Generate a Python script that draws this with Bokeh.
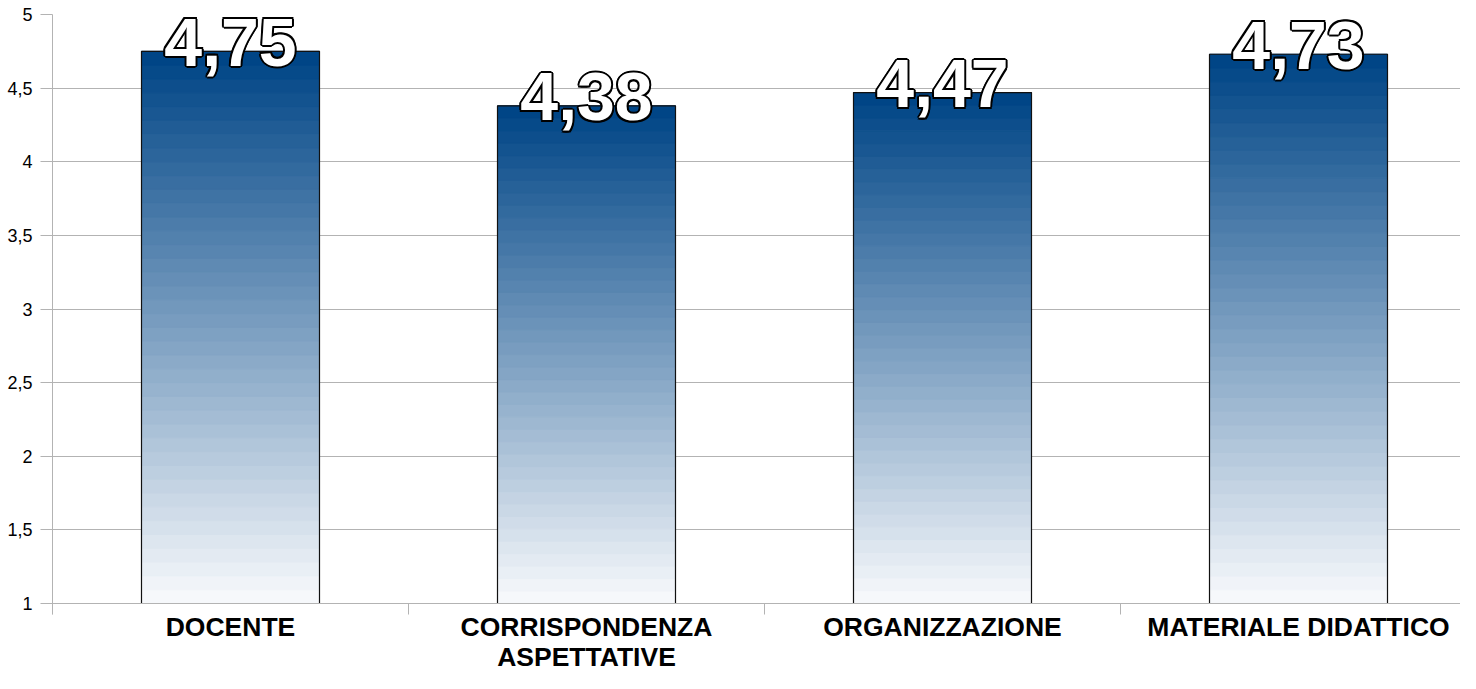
from bokeh.plotting import figure
from bokeh.models import Range1d, FixedTicker, ColumnDataSource
from bokeh.core.properties import value
from bokeh.embed import file_html
from bokeh.resources import INLINE

categories = ["DOCENTE", "CORRISPONDENZA\nASPETTATIVE", "ORGANIZZAZIONE", "MATERIALE DIDATTICO"]
scores = [4.75, 4.38, 4.47, 4.73]
score_labels = ["4,75", "4,38", "4,47", "4,73"]
y_ticks = [1, 1.5, 2, 2.5, 3, 3.5, 4, 4.5, 5]
y_tick_labels = ["1", "1,5", "2", "2,5", "3", "3,5", "4", "4,5", "5"]

W, H = 1460, 673
LEFT, TOP = 52, 14
frame_w = W - LEFT
slot_px = 356.0
axis_px = 589.0          # pixel span of the value axis (1..5)
x_pos = [i + 1 for i in range(len(categories))]
y_min, y_max = y_ticks[0], y_ticks[-1]
px_per_unit = axis_px / (y_max - y_min)
y_lo = y_max - (H - TOP) / px_per_unit   # room below the axis for category names
tick_len = 11 / px_per_unit

p = figure(width=W, height=H,
           x_range=Range1d(0.5, 0.5 + frame_w / slot_px),
           y_range=Range1d(y_lo, y_max),
           output_backend="svg", toolbar_location=None,
           min_border_left=LEFT, min_border_right=0,
           min_border_top=TOP, min_border_bottom=0)
p.outline_line_color = None
p.background_fill_color = "white"
p.border_fill_color = "white"

# gradient bars (stacked bands)
N = 40
top_rgb = (0x00, 0x45, 0x86)
bot_rgb = (0xf6, 0xf8, 0xfb)
band = dict(left=[], right=[], bottom=[], top=[], color=[])
for xc, v in zip(x_pos, scores):
    for i in range(N):
        b = y_min + (v - y_min) * i / N
        t = y_min + (v - y_min) * (i + 1) / N
        f = i / (N - 1)
        rgb = tuple(int(round(bot_rgb[k] + (top_rgb[k] - bot_rgb[k]) * f)) for k in range(3))
        band["left"].append(xc - 0.25)
        band["right"].append(xc + 0.25)
        band["bottom"].append(b)
        band["top"].append(t)
        band["color"].append("#%02x%02x%02x" % rgb)
p.quad(left="left", right="right", bottom="bottom", top="top",
       fill_color="color", line_color="color", line_width=1, source=ColumnDataSource(band))
p.quad(left=[x - 0.25 for x in x_pos], right=[x + 0.25 for x in x_pos],
       bottom=[y_min] * len(scores), top=scores,
       fill_color=None, line_color="#111111", line_width=1.2)

# value labels with outline
src = ColumnDataSource(dict(x=x_pos, y=scores, t=score_labels))
font = value("Liberation Sans")
base_off = -9
fs = "68px"
offsets = [(-2, 0), (2, 0), (0, -2), (0, 2), (-1.5, -1.5), (1.5, -1.5), (-1.5, 1.5), (1.5, 1.5)]
for dx, dy in offsets:
    p.text(x="x", y="y", text="t", source=src, text_font=font, text_font_style="bold",
           text_font_size=fs, text_color="black", text_align="center",
           text_baseline="alphabetic", x_offset=dx, y_offset=base_off + dy)
p.text(x="x", y="y", text="t", source=src, text_font=font, text_font_style="bold",
       text_font_size=fs, text_color="white", text_align="center",
       text_baseline="alphabetic", x_offset=0, y_offset=base_off)

# axes
grid_c = "#b3b3b3"
p.xgrid.visible = False
p.ygrid.grid_line_color = grid_c
p.ygrid.ticker = FixedTicker(ticks=y_ticks)

p.yaxis.ticker = FixedTicker(ticks=y_ticks, minor_ticks=[])
p.yaxis.bounds = (y_min - tick_len, y_max)
p.yaxis.major_label_overrides = {k: v for k, v in zip(y_ticks, y_tick_labels)}
p.yaxis.axis_line_color = grid_c
p.yaxis.major_tick_line_color = grid_c
p.yaxis.major_tick_out = 12
p.yaxis.major_tick_in = 0
p.yaxis.major_label_standoff = 8
p.yaxis.major_label_text_font = "Liberation Sans"
p.yaxis.major_label_text_font_size = "18px"
p.yaxis.major_label_text_color = "black"

p.xaxis.fixed_location = y_min
p.xaxis.ticker = FixedTicker(ticks=x_pos, minor_ticks=[x - 0.5 for x in x_pos] + [x_pos[-1] + 0.5])
p.xaxis.major_label_overrides = {k: v for k, v in zip(x_pos, categories)}
p.xaxis.axis_line_color = grid_c
p.xaxis.major_tick_line_color = None
p.xaxis.major_tick_out = 0
p.xaxis.major_tick_in = 0
p.xaxis.minor_tick_line_color = grid_c
p.xaxis.minor_tick_out = 11
p.xaxis.minor_tick_in = 0
p.xaxis.major_label_standoff = -3
p.xaxis.major_label_text_font = "Liberation Sans"
p.xaxis.major_label_text_font_style = "bold"
p.xaxis.major_label_text_font_size = "26.5px"
p.xaxis.major_label_text_line_height = 1.0
p.xaxis.major_label_text_color = "black"

open("out.html", "w").write(file_html(p, INLINE))
